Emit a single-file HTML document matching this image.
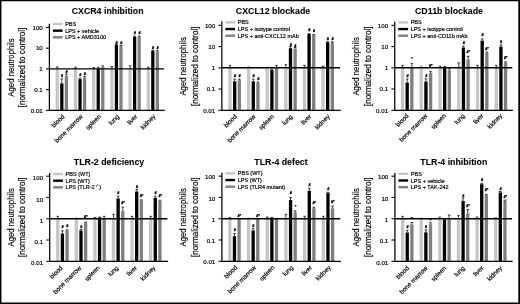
<!DOCTYPE html>
<html><head><meta charset="utf-8"><title>Aged neutrophils</title>
<style>
html,body{margin:0;padding:0;background:#fff;}
body{width:520px;height:304px;overflow:hidden;position:relative;font-family:"Liberation Sans",sans-serif;}
svg{position:absolute;left:0;top:0;display:block;font-family:"Liberation Sans",sans-serif;}
.frame{position:absolute;left:0;top:0;width:520px;height:304px;box-sizing:border-box;border-style:solid;border-color:#000;border-width:1.5px 1.5px 1.5px 1.5px;}
</style></head><body>
<svg width="520" height="304" viewBox="0 0 520 304" fill="#000" style="filter:blur(0.35px)">
<style>text{stroke:#000;stroke-width:0.18px;}text.t{stroke-width:0.08px;}text.m{stroke-width:0.25px;}</style>
<rect x="0" y="0" width="520" height="304" fill="#fff"/>
<g><text class="t" x="107.6" y="14" font-size="8.8" font-weight="bold" text-anchor="middle">CXCR4 inhibition</text>
<rect x="55.65" y="68.9" width="3.25" height="41.44" fill="#c6c6c6"/>
<path d="M57.27 68.9V66.89M55.98 66.89H58.57" stroke="#000" stroke-width="0.75" fill="none"/>
<rect x="60.2" y="83.38" width="3.25" height="26.96" fill="#000000"/>
<path d="M61.82 83.38V78.88M60.52 78.88H63.12" stroke="#000" stroke-width="0.75" fill="none"/>
<text class="m" x="62.02" y="77.28" font-size="3.6" text-anchor="middle" font-weight="bold" font-style="italic">#</text>
<rect x="64.75" y="76.09" width="3.25" height="34.25" fill="#7f7f7f"/>
<path d="M66.38 76.09V74.12M65.08 74.12H67.67" stroke="#000" stroke-width="0.75" fill="none"/>
<text class="m" x="66.58" y="72.52" font-size="3.6" text-anchor="middle" font-weight="bold" font-style="italic">#</text>
<rect x="73.85" y="68.9" width="3.25" height="41.44" fill="#c6c6c6"/>
<path d="M75.47 68.9V67.26M74.17 67.26H76.77" stroke="#000" stroke-width="0.75" fill="none"/>
<rect x="78.4" y="79.15" width="3.25" height="31.19" fill="#000000"/>
<path d="M80.02 79.15V78.09M78.72 78.09H81.32" stroke="#000" stroke-width="0.75" fill="none"/>
<text class="m" x="80.22" y="76.49" font-size="3.6" text-anchor="middle" font-weight="bold" font-style="italic">#</text>
<rect x="82.95" y="77.85" width="3.25" height="32.49" fill="#7f7f7f"/>
<path d="M84.57 77.85V76.71M83.27 76.71H85.87" stroke="#000" stroke-width="0.75" fill="none"/>
<text class="m" x="84.77" y="75.11" font-size="3.6" text-anchor="middle" font-weight="bold" font-style="italic">#</text>
<rect x="92.05" y="68.04" width="3.25" height="42.3" fill="#c6c6c6"/>
<path d="M93.68 68.04V67.64M92.38 67.64H94.98" stroke="#000" stroke-width="0.75" fill="none"/>
<rect x="96.6" y="68.9" width="3.25" height="41.44" fill="#000000"/>
<path d="M98.23 68.9V67.26M96.93 67.26H99.53" stroke="#000" stroke-width="0.75" fill="none"/>
<rect x="101.15" y="67.26" width="3.25" height="43.08" fill="#7f7f7f"/>
<path d="M102.78 67.26V65.87M101.48 65.87H104.08" stroke="#000" stroke-width="0.75" fill="none"/>
<rect x="110.25" y="68.9" width="3.25" height="41.44" fill="#c6c6c6"/>
<path d="M111.88 68.9V66.54M110.58 66.54H113.17" stroke="#000" stroke-width="0.75" fill="none"/>
<rect x="114.8" y="44.9" width="3.25" height="65.44" fill="#000000"/>
<path d="M116.42 44.9V44.24M115.12 44.24H117.72" stroke="#000" stroke-width="0.75" fill="none"/>
<text class="m" x="116.62" y="43.64" font-size="3.6" text-anchor="middle" font-weight="bold" font-style="italic">#</text>
<rect x="119.35" y="46.17" width="3.25" height="64.17" fill="#7f7f7f"/>
<path d="M120.97 46.17V45.48M119.67 45.48H122.27" stroke="#000" stroke-width="0.75" fill="none"/>
<text class="m" x="121.17" y="43.88" font-size="3.6" text-anchor="middle" font-weight="bold" font-style="italic">#</text>
<rect x="128.45" y="68.9" width="3.25" height="41.44" fill="#c6c6c6"/>
<path d="M130.08 68.9V65.87M128.78 65.87H131.38" stroke="#000" stroke-width="0.75" fill="none"/>
<rect x="133" y="36.65" width="3.25" height="73.69" fill="#000000"/>
<path d="M134.63 36.65V36.05M133.33 36.05H135.93" stroke="#000" stroke-width="0.75" fill="none"/>
<text class="m" x="134.83" y="34.45" font-size="3.6" text-anchor="middle" font-weight="bold" font-style="italic">#</text>
<rect x="137.55" y="36.91" width="3.25" height="73.43" fill="#7f7f7f"/>
<path d="M139.18 36.91V36.05M137.88 36.05H140.48" stroke="#000" stroke-width="0.75" fill="none"/>
<text class="m" x="139.38" y="34.45" font-size="3.6" text-anchor="middle" font-weight="bold" font-style="italic">#</text>
<rect x="146.65" y="68.9" width="3.25" height="41.44" fill="#c6c6c6"/>
<path d="M148.28 68.9V67.26M146.97 67.26H149.58" stroke="#000" stroke-width="0.75" fill="none"/>
<rect x="151.2" y="50.77" width="3.25" height="59.57" fill="#000000"/>
<path d="M152.83 50.77V50.19M151.53 50.19H154.13" stroke="#000" stroke-width="0.75" fill="none"/>
<text class="m" x="153.03" y="48.59" font-size="3.6" text-anchor="middle" font-weight="bold" font-style="italic">#</text>
<rect x="155.75" y="51.52" width="3.25" height="58.82" fill="#7f7f7f"/>
<path d="M157.38 51.52V50.65M156.07 50.65H158.68" stroke="#000" stroke-width="0.75" fill="none"/>
<text class="m" x="157.57" y="49.05" font-size="3.6" text-anchor="middle" font-weight="bold" font-style="italic">#</text>
<text x="42.8" y="29.71" font-size="6.2" text-anchor="end">100</text>
<text x="42.8" y="50.43" font-size="6.2" text-anchor="end">10</text>
<text x="42.8" y="71.15" font-size="6.2" text-anchor="end">1</text>
<text x="42.8" y="91.87" font-size="6.2" text-anchor="end">0.1</text>
<text x="42.8" y="112.59" font-size="6.2" text-anchor="end">0.01</text>
<rect x="52.9" y="22.8" width="9.7" height="2.4" fill="#c6c6c6"/>
<text x="65.2" y="26" font-size="5.5">PBS</text>
<rect x="52.9" y="29.45" width="9.7" height="2.4" fill="#000000"/>
<text x="65.2" y="32.65" font-size="5.5">LPS + vehicle</text>
<rect x="52.9" y="36.1" width="9.7" height="2.4" fill="#7f7f7f"/>
<text x="65.2" y="39.3" font-size="5.5">LPS + AMD3100</text>
<text transform="translate(13.9 67.5) rotate(-90) scale(0.82 1)" font-size="9.5" text-anchor="middle">Aged neutrophils</text>
<text transform="translate(25.2 67.4) rotate(-90) scale(0.82 1)" font-size="9.35" text-anchor="middle" textLength="96.95" lengthAdjust="spacingAndGlyphs">[normalized to control]</text>
<text transform="translate(65.02 117.14) rotate(-45)" font-size="6.3" text-anchor="end">blood</text>
<text transform="translate(83.22 117.14) rotate(-45)" font-size="6.3" text-anchor="end">bone marrow</text>
<text transform="translate(101.43 117.14) rotate(-45)" font-size="6.3" text-anchor="end">spleen</text>
<text transform="translate(119.62 117.14) rotate(-45)" font-size="6.3" text-anchor="end">lung</text>
<text transform="translate(137.83 117.14) rotate(-45)" font-size="6.3" text-anchor="end">liver</text>
<text transform="translate(156.03 117.14) rotate(-45)" font-size="6.3" text-anchor="end">kidney</text></g>
<g><text class="t" x="273" y="14" font-size="8.8" font-weight="bold" text-anchor="middle">CXCL12 blockade</text>
<rect x="228.38" y="67.8" width="3.32" height="42.46" fill="#c6c6c6"/>
<path d="M230.04 67.8V65.38M228.74 65.38H231.34" stroke="#000" stroke-width="0.75" fill="none"/>
<rect x="233.03" y="81.35" width="3.32" height="28.91" fill="#000000"/>
<path d="M234.69 81.35V79.21M233.39 79.21H235.99" stroke="#000" stroke-width="0.75" fill="none"/>
<text class="m" x="234.89" y="76.61" font-size="3.6" text-anchor="middle" font-weight="bold" font-style="italic">#</text>
<rect x="237.68" y="80.22" width="3.32" height="30.04" fill="#7f7f7f"/>
<path d="M239.34 80.22V79.21M238.04 79.21H240.64" stroke="#000" stroke-width="0.75" fill="none"/>
<text class="m" x="239.54" y="76.61" font-size="3.6" text-anchor="middle" font-weight="bold" font-style="italic">#</text>
<rect x="246.98" y="67.8" width="3.32" height="42.46" fill="#c6c6c6"/>
<path d="M248.64 67.8V67.09M247.34 67.09H249.94" stroke="#000" stroke-width="0.75" fill="none"/>
<rect x="251.63" y="81.35" width="3.32" height="28.91" fill="#000000"/>
<path d="M253.29 81.35V79.21M251.99 79.21H254.59" stroke="#000" stroke-width="0.75" fill="none"/>
<text class="m" x="253.49" y="76.61" font-size="3.6" text-anchor="middle" font-weight="bold" font-style="italic">#</text>
<rect x="256.27" y="83.11" width="3.32" height="27.15" fill="#7f7f7f"/>
<path d="M257.93 83.11V81.97M256.63 81.97H259.23" stroke="#000" stroke-width="0.75" fill="none"/>
<text class="m" x="258.13" y="80.37" font-size="3.6" text-anchor="middle" font-weight="bold" font-style="italic">#</text>
<rect x="265.57" y="67.8" width="3.32" height="42.46" fill="#c6c6c6"/>
<path d="M267.23 67.8V67.35M265.93 67.35H268.53" stroke="#000" stroke-width="0.75" fill="none"/>
<rect x="270.22" y="69.86" width="3.32" height="40.4" fill="#000000"/>
<path d="M271.88 69.86V68.98M270.58 68.98H273.18" stroke="#000" stroke-width="0.75" fill="none"/>
<rect x="274.87" y="67.8" width="3.32" height="42.46" fill="#7f7f7f"/>
<path d="M276.53 67.8V65.38M275.23 65.38H277.83" stroke="#000" stroke-width="0.75" fill="none"/>
<rect x="284.17" y="67.8" width="3.32" height="42.46" fill="#c6c6c6"/>
<path d="M285.83 67.8V64.7M284.53 64.7H287.13" stroke="#000" stroke-width="0.75" fill="none"/>
<rect x="288.82" y="48.18" width="3.32" height="62.08" fill="#000000"/>
<path d="M290.48 48.18V46.57M289.18 46.57H291.78" stroke="#000" stroke-width="0.75" fill="none"/>
<text class="m" x="290.68" y="45.97" font-size="3.6" text-anchor="middle" font-weight="bold" font-style="italic">#</text>
<rect x="293.47" y="48.74" width="3.32" height="61.52" fill="#7f7f7f"/>
<path d="M295.13 48.74V47.54M293.83 47.54H296.43" stroke="#000" stroke-width="0.75" fill="none"/>
<text class="m" x="295.33" y="46.74" font-size="3.6" text-anchor="middle" font-weight="bold" font-style="italic">#</text>
<rect x="302.77" y="66.92" width="3.32" height="43.34" fill="#c6c6c6"/>
<path d="M304.43 66.92V65.38M303.13 65.38H305.73" stroke="#000" stroke-width="0.75" fill="none"/>
<rect x="307.42" y="34.14" width="3.32" height="76.12" fill="#000000"/>
<path d="M309.08 34.14V33.56M307.78 33.56H310.38" stroke="#000" stroke-width="0.75" fill="none"/>
<text class="m" x="309.28" y="31.16" font-size="3.6" text-anchor="middle" font-weight="bold" font-style="italic">#</text>
<rect x="312.06" y="35.02" width="3.32" height="75.24" fill="#7f7f7f"/>
<path d="M313.72 35.02V34.51M312.42 34.51H315.02" stroke="#000" stroke-width="0.75" fill="none"/>
<text class="m" x="313.92" y="32.11" font-size="3.6" text-anchor="middle" font-weight="bold" font-style="italic">#</text>
<rect x="321.36" y="66.92" width="3.32" height="43.34" fill="#c6c6c6"/>
<path d="M323.02 66.92V66.12M321.72 66.12H324.32" stroke="#000" stroke-width="0.75" fill="none"/>
<rect x="326.01" y="42.24" width="3.32" height="68.02" fill="#000000"/>
<path d="M327.67 42.24V41.68M326.37 41.68H328.97" stroke="#000" stroke-width="0.75" fill="none"/>
<text class="m" x="327.87" y="40.08" font-size="3.6" text-anchor="middle" font-weight="bold" font-style="italic">#</text>
<rect x="330.66" y="42.41" width="3.32" height="67.85" fill="#7f7f7f"/>
<path d="M332.32 42.41V41.84M331.02 41.84H333.62" stroke="#000" stroke-width="0.75" fill="none"/>
<text class="m" x="332.52" y="40.24" font-size="3.6" text-anchor="middle" font-weight="bold" font-style="italic">#</text>
<text x="215.25" y="27.59" font-size="6.2" text-anchor="end">100</text>
<text x="215.25" y="48.82" font-size="6.2" text-anchor="end">10</text>
<text x="215.25" y="70.05" font-size="6.2" text-anchor="end">1</text>
<text x="215.25" y="91.28" font-size="6.2" text-anchor="end">0.1</text>
<text x="215.25" y="112.51" font-size="6.2" text-anchor="end">0.01</text>
<rect x="225.35" y="21.2" width="9.7" height="2.4" fill="#c6c6c6"/>
<text x="237.75" y="24.4" font-size="5.5">PBS</text>
<rect x="225.35" y="27.85" width="9.7" height="2.4" fill="#000000"/>
<text x="237.75" y="31.05" font-size="5.5">LPS + isotype control</text>
<rect x="225.35" y="34.5" width="9.7" height="2.4" fill="#7f7f7f"/>
<text x="237.75" y="37.7" font-size="5.5">LPS + anti-CXCL12 mAb</text>
<text transform="translate(186.35 66.4) rotate(-90) scale(0.82 1)" font-size="9.5" text-anchor="middle">Aged neutrophils</text>
<text transform="translate(197.65 66.3) rotate(-90) scale(0.82 1)" font-size="9.35" text-anchor="middle" textLength="96.95" lengthAdjust="spacingAndGlyphs">[normalized to control]</text>
<text transform="translate(237.29 117.06) rotate(-45)" font-size="6.3" text-anchor="end">blood</text>
<text transform="translate(255.89 117.06) rotate(-45)" font-size="6.3" text-anchor="end">bone marrow</text>
<text transform="translate(274.48 117.06) rotate(-45)" font-size="6.3" text-anchor="end">spleen</text>
<text transform="translate(293.08 117.06) rotate(-45)" font-size="6.3" text-anchor="end">lung</text>
<text transform="translate(311.68 117.06) rotate(-45)" font-size="6.3" text-anchor="end">liver</text>
<text transform="translate(330.27 117.06) rotate(-45)" font-size="6.3" text-anchor="end">kidney</text></g>
<g><text class="t" x="449" y="14" font-size="8.8" font-weight="bold" text-anchor="middle">CD11b blockade</text>
<rect x="400.88" y="67.8" width="3.32" height="42.46" fill="#c6c6c6"/>
<path d="M402.54 67.8V65.38M401.24 65.38H403.84" stroke="#000" stroke-width="0.75" fill="none"/>
<rect x="405.53" y="82.64" width="3.32" height="27.62" fill="#000000"/>
<path d="M407.19 82.64V78.9M405.89 78.9H408.49" stroke="#000" stroke-width="0.75" fill="none"/>
<text class="m" x="407.39" y="77.3" font-size="3.6" text-anchor="middle" font-weight="bold" font-style="italic">#</text>
<rect x="410.18" y="67.8" width="3.32" height="42.46" fill="#7f7f7f"/>
<path d="M411.84 67.8V63.35M410.54 63.35H413.14" stroke="#000" stroke-width="0.75" fill="none"/>
<text class="m" x="412.04" y="59.95" font-size="3.6" text-anchor="middle" font-weight="bold" font-style="italic">*</text>
<rect x="419.63" y="67.8" width="3.32" height="42.46" fill="#c6c6c6"/>
<path d="M421.29 67.8V66.92M419.99 66.92H422.59" stroke="#000" stroke-width="0.75" fill="none"/>
<rect x="424.28" y="81.55" width="3.32" height="28.71" fill="#000000"/>
<path d="M425.94 81.55V78.9M424.64 78.9H427.24" stroke="#000" stroke-width="0.75" fill="none"/>
<text class="m" x="426.14" y="77.3" font-size="3.6" text-anchor="middle" font-weight="bold" font-style="italic">#</text>
<rect x="428.92" y="73.06" width="3.32" height="37.2" fill="#7f7f7f"/>
<path d="M430.58 73.06V71.63M429.28 71.63H431.88" stroke="#000" stroke-width="0.75" fill="none"/>
<text class="m" x="430.78" y="66.73" font-size="3.6" text-anchor="middle" font-weight="bold" font-style="italic">#*</text>
<rect x="438.37" y="66.92" width="3.32" height="43.34" fill="#c6c6c6"/>
<path d="M440.03 66.92V66.12M438.73 66.12H441.33" stroke="#000" stroke-width="0.75" fill="none"/>
<rect x="443.02" y="67.35" width="3.32" height="42.91" fill="#000000"/>
<path d="M444.68 67.35V66.51M443.38 66.51H445.98" stroke="#000" stroke-width="0.75" fill="none"/>
<rect x="447.67" y="70.33" width="3.32" height="39.93" fill="#7f7f7f"/>
<path d="M449.33 70.33V68.77M448.03 68.77H450.63" stroke="#000" stroke-width="0.75" fill="none"/>
<rect x="457.12" y="67.8" width="3.32" height="42.46" fill="#c6c6c6"/>
<path d="M458.78 67.8V62.91M457.48 62.91H460.08" stroke="#000" stroke-width="0.75" fill="none"/>
<rect x="461.77" y="47.54" width="3.32" height="62.72" fill="#000000"/>
<path d="M463.43 47.54V46.12M462.13 46.12H464.73" stroke="#000" stroke-width="0.75" fill="none"/>
<text class="m" x="463.63" y="43.52" font-size="3.6" text-anchor="middle" font-weight="bold" font-style="italic">#</text>
<rect x="466.42" y="59.35" width="3.32" height="50.91" fill="#7f7f7f"/>
<path d="M468.08 59.35V56.38M466.78 56.38H469.38" stroke="#000" stroke-width="0.75" fill="none"/>
<text class="m" x="468.28" y="53.08" font-size="3.6" text-anchor="middle" font-weight="bold" font-style="italic">#*</text>
<rect x="475.87" y="68.77" width="3.32" height="41.49" fill="#c6c6c6"/>
<path d="M477.53 68.77V65.38M476.23 65.38H478.83" stroke="#000" stroke-width="0.75" fill="none"/>
<rect x="480.52" y="40.65" width="3.32" height="69.61" fill="#000000"/>
<path d="M482.18 40.65V38.89M480.88 38.89H483.48" stroke="#000" stroke-width="0.75" fill="none"/>
<text class="m" x="482.38" y="36.49" font-size="3.6" text-anchor="middle" font-weight="bold" font-style="italic">#</text>
<rect x="485.16" y="52.96" width="3.32" height="57.3" fill="#7f7f7f"/>
<path d="M486.82 52.96V52.08M485.52 52.08H488.12" stroke="#000" stroke-width="0.75" fill="none"/>
<text class="m" x="487.02" y="49.98" font-size="3.6" text-anchor="middle" font-weight="bold" font-style="italic">#*</text>
<rect x="494.61" y="68.77" width="3.32" height="41.49" fill="#c6c6c6"/>
<path d="M496.27 68.77V65.38M494.97 65.38H497.57" stroke="#000" stroke-width="0.75" fill="none"/>
<rect x="499.26" y="46.57" width="3.32" height="63.69" fill="#000000"/>
<path d="M500.92 46.57V44.89M499.62 44.89H502.22" stroke="#000" stroke-width="0.75" fill="none"/>
<text class="m" x="501.12" y="42.79" font-size="3.6" text-anchor="middle" font-weight="bold" font-style="italic">#</text>
<rect x="503.91" y="62.91" width="3.32" height="47.35" fill="#7f7f7f"/>
<path d="M505.57 62.91V61.88M504.27 61.88H506.87" stroke="#000" stroke-width="0.75" fill="none"/>
<text class="m" x="505.77" y="59.28" font-size="3.6" text-anchor="middle" font-weight="bold" font-style="italic">#*</text>
<text x="388.15" y="27.59" font-size="6.2" text-anchor="end">100</text>
<text x="388.15" y="48.82" font-size="6.2" text-anchor="end">10</text>
<text x="388.15" y="70.05" font-size="6.2" text-anchor="end">1</text>
<text x="388.15" y="91.28" font-size="6.2" text-anchor="end">0.1</text>
<text x="388.15" y="112.51" font-size="6.2" text-anchor="end">0.01</text>
<rect x="398.25" y="21.2" width="9.7" height="2.4" fill="#c6c6c6"/>
<text x="410.65" y="24.4" font-size="5.5">PBS</text>
<rect x="398.25" y="27.85" width="9.7" height="2.4" fill="#000000"/>
<text x="410.65" y="31.05" font-size="5.5">LPS + isotype control</text>
<rect x="398.25" y="34.5" width="9.7" height="2.4" fill="#7f7f7f"/>
<text x="410.65" y="37.7" font-size="5.5">LPS + anti-CD11b mAb</text>
<text transform="translate(359.25 66.4) rotate(-90) scale(0.82 1)" font-size="9.5" text-anchor="middle">Aged neutrophils</text>
<text transform="translate(370.55 66.3) rotate(-90) scale(0.82 1)" font-size="9.35" text-anchor="middle" textLength="96.95" lengthAdjust="spacingAndGlyphs">[normalized to control]</text>
<text transform="translate(409.09 116.26) rotate(-45)" font-size="6.3" text-anchor="end">blood</text>
<text transform="translate(427.84 116.26) rotate(-45)" font-size="6.3" text-anchor="end">bone marrow</text>
<text transform="translate(446.58 116.26) rotate(-45)" font-size="6.3" text-anchor="end">spleen</text>
<text transform="translate(465.33 116.26) rotate(-45)" font-size="6.3" text-anchor="end">lung</text>
<text transform="translate(484.08 116.26) rotate(-45)" font-size="6.3" text-anchor="end">liver</text>
<text transform="translate(502.82 116.26) rotate(-45)" font-size="6.3" text-anchor="end">kidney</text></g>
<g><text class="t" x="109" y="165" font-size="8.8" font-weight="bold" text-anchor="middle">TLR-2 deficiency</text>
<rect x="56.12" y="218.75" width="3.31" height="42.56" fill="#c6c6c6"/>
<path d="M57.77 218.75V216.33M56.47 216.33H59.07" stroke="#000" stroke-width="0.75" fill="none"/>
<rect x="60.75" y="233.62" width="3.31" height="27.69" fill="#000000"/>
<path d="M62.41 233.62V230.85M61.11 230.85H63.71" stroke="#000" stroke-width="0.75" fill="none"/>
<text class="m" x="62.61" y="227.55" font-size="3.6" text-anchor="middle" font-weight="bold" font-style="italic">#</text>
<rect x="65.39" y="230.85" width="3.31" height="30.46" fill="#7f7f7f"/>
<path d="M67.05 230.85V229.88M65.75 229.88H68.35" stroke="#000" stroke-width="0.75" fill="none"/>
<text class="m" x="67.25" y="226.78" font-size="3.6" text-anchor="middle" font-weight="bold" font-style="italic">#</text>
<rect x="74.69" y="218.75" width="3.31" height="42.56" fill="#c6c6c6"/>
<path d="M76.35 218.75V218.3M75.05 218.3H77.65" stroke="#000" stroke-width="0.75" fill="none"/>
<rect x="79.33" y="230.51" width="3.31" height="30.8" fill="#000000"/>
<path d="M80.98 230.51V229.57M79.68 229.57H82.28" stroke="#000" stroke-width="0.75" fill="none"/>
<text class="m" x="81.18" y="227.77" font-size="3.6" text-anchor="middle" font-weight="bold" font-style="italic">#</text>
<rect x="83.96" y="222.73" width="3.31" height="38.58" fill="#7f7f7f"/>
<path d="M85.62 222.73V222.05M84.32 222.05H86.92" stroke="#000" stroke-width="0.75" fill="none"/>
<text class="m" x="85.82" y="218.45" font-size="3.6" text-anchor="middle" font-weight="bold" font-style="italic">#*</text>
<rect x="93.26" y="217.87" width="3.31" height="43.44" fill="#c6c6c6"/>
<path d="M94.92 217.87V217.46M93.62 217.46H96.22" stroke="#000" stroke-width="0.75" fill="none"/>
<rect x="97.9" y="217.46" width="3.31" height="43.85" fill="#000000"/>
<path d="M99.56 217.46V217.07M98.26 217.07H100.86" stroke="#000" stroke-width="0.75" fill="none"/>
<rect x="102.54" y="217.87" width="3.31" height="43.44" fill="#7f7f7f"/>
<path d="M104.19 217.87V216.33M102.89 216.33H105.49" stroke="#000" stroke-width="0.75" fill="none"/>
<rect x="111.83" y="218.75" width="3.31" height="42.56" fill="#c6c6c6"/>
<path d="M113.49 218.75V214.41M112.19 214.41H114.79" stroke="#000" stroke-width="0.75" fill="none"/>
<rect x="116.47" y="198.44" width="3.31" height="62.87" fill="#000000"/>
<path d="M118.13 198.44V196.18M116.83 196.18H119.43" stroke="#000" stroke-width="0.75" fill="none"/>
<text class="m" x="118.33" y="194.38" font-size="3.6" text-anchor="middle" font-weight="bold" font-style="italic">#</text>
<rect x="121.11" y="211.05" width="3.31" height="50.26" fill="#7f7f7f"/>
<path d="M122.77 211.05V207.17M121.47 207.17H124.07" stroke="#000" stroke-width="0.75" fill="none"/>
<text class="m" x="122.97" y="204.07" font-size="3.6" text-anchor="middle" font-weight="bold" font-style="italic">#*</text>
<rect x="130.41" y="218.75" width="3.31" height="42.56" fill="#c6c6c6"/>
<path d="M132.06 218.75V216.33M130.76 216.33H133.36" stroke="#000" stroke-width="0.75" fill="none"/>
<rect x="135.04" y="191.54" width="3.31" height="69.77" fill="#000000"/>
<path d="M136.7 191.54V189.57M135.4 189.57H138" stroke="#000" stroke-width="0.75" fill="none"/>
<text class="m" x="136.9" y="187.77" font-size="3.6" text-anchor="middle" font-weight="bold" font-style="italic">#</text>
<rect x="139.68" y="200.51" width="3.31" height="60.8" fill="#7f7f7f"/>
<path d="M141.34 200.51V199.89M140.04 199.89H142.64" stroke="#000" stroke-width="0.75" fill="none"/>
<text class="m" x="141.54" y="197.49" font-size="3.6" text-anchor="middle" font-weight="bold" font-style="italic">#*</text>
<rect x="148.98" y="218.75" width="3.31" height="42.56" fill="#c6c6c6"/>
<path d="M150.63 218.75V216.33M149.33 216.33H151.93" stroke="#000" stroke-width="0.75" fill="none"/>
<rect x="153.62" y="197.85" width="3.31" height="63.46" fill="#000000"/>
<path d="M155.27 197.85V196.18M153.97 196.18H156.57" stroke="#000" stroke-width="0.75" fill="none"/>
<text class="m" x="155.47" y="194.38" font-size="3.6" text-anchor="middle" font-weight="bold" font-style="italic">#</text>
<rect x="158.25" y="201.31" width="3.31" height="60" fill="#7f7f7f"/>
<path d="M159.91 201.31V200.25M158.61 200.25H161.21" stroke="#000" stroke-width="0.75" fill="none"/>
<text class="m" x="160.11" y="197.35" font-size="3.6" text-anchor="middle" font-weight="bold" font-style="italic">#*</text>
<text x="43.1" y="180.34" font-size="6.2" text-anchor="end">100</text>
<text x="43.1" y="201.62" font-size="6.2" text-anchor="end">10</text>
<text x="43.1" y="222.9" font-size="6.2" text-anchor="end">1</text>
<text x="43.1" y="244.18" font-size="6.2" text-anchor="end">0.1</text>
<text x="43.1" y="265.46" font-size="6.2" text-anchor="end">0.01</text>
<rect x="53.2" y="172.85" width="9.7" height="2.4" fill="#c6c6c6"/>
<text x="65.6" y="176.05" font-size="5.5">PBS (WT)</text>
<rect x="53.2" y="179.5" width="9.7" height="2.4" fill="#000000"/>
<text x="65.6" y="182.7" font-size="5.5">LPS (WT)</text>
<rect x="53.2" y="186.15" width="9.7" height="2.4" fill="#7f7f7f"/>
<text x="65.6" y="189.35" font-size="5.5">LPS (TLR-2<tspan font-size="3.2" dy="-2.2">−/−</tspan><tspan dy="2.2">)</tspan></text>
<text transform="translate(13.85 217.35) rotate(-90) scale(0.82 1)" font-size="9.5" text-anchor="middle">Aged neutrophils</text>
<text transform="translate(25.15 217.25) rotate(-90) scale(0.82 1)" font-size="9.35" text-anchor="middle" textLength="96.95" lengthAdjust="spacingAndGlyphs">[normalized to control]</text>
<text transform="translate(63.11 268.41) rotate(-45)" font-size="6.3" text-anchor="end">blood</text>
<text transform="translate(81.68 268.41) rotate(-45)" font-size="6.3" text-anchor="end">bone marrow</text>
<text transform="translate(100.26 268.41) rotate(-45)" font-size="6.3" text-anchor="end">spleen</text>
<text transform="translate(118.83 268.41) rotate(-45)" font-size="6.3" text-anchor="end">lung</text>
<text transform="translate(137.4 268.41) rotate(-45)" font-size="6.3" text-anchor="end">liver</text>
<text transform="translate(155.97 268.41) rotate(-45)" font-size="6.3" text-anchor="end">kidney</text></g>
<g><text class="t" x="281" y="164.7" font-size="8.8" font-weight="bold" text-anchor="middle">TLR-4 defect</text>
<rect x="228.19" y="218.7" width="3.3" height="42.56" fill="#c6c6c6"/>
<path d="M229.84 218.7V217.41M228.54 217.41H231.14" stroke="#000" stroke-width="0.75" fill="none"/>
<rect x="232.8" y="236.23" width="3.3" height="25.03" fill="#000000"/>
<path d="M234.45 236.23V233.57M233.15 233.57H235.75" stroke="#000" stroke-width="0.75" fill="none"/>
<text class="m" x="234.65" y="230.97" font-size="3.6" text-anchor="middle" font-weight="bold" font-style="italic">#</text>
<rect x="237.42" y="219.17" width="3.3" height="42.09" fill="#7f7f7f"/>
<path d="M239.07 219.17V218.7M237.77 218.7H240.37" stroke="#000" stroke-width="0.75" fill="none"/>
<text class="m" x="239.27" y="217.3" font-size="3.6" text-anchor="middle" font-weight="bold" font-style="italic">#*</text>
<rect x="246.89" y="218.7" width="3.3" height="42.56" fill="#c6c6c6"/>
<path d="M248.54 218.7V218.25M247.24 218.25H249.84" stroke="#000" stroke-width="0.75" fill="none"/>
<rect x="251.51" y="230.46" width="3.3" height="30.8" fill="#000000"/>
<path d="M253.16 230.46V228.67M251.86 228.67H254.46" stroke="#000" stroke-width="0.75" fill="none"/>
<text class="m" x="253.36" y="226.87" font-size="3.6" text-anchor="middle" font-weight="bold" font-style="italic">#</text>
<rect x="256.12" y="219.17" width="3.3" height="42.09" fill="#7f7f7f"/>
<path d="M257.77 219.17V218.7M256.47 218.7H259.07" stroke="#000" stroke-width="0.75" fill="none"/>
<text class="m" x="257.97" y="217.3" font-size="3.6" text-anchor="middle" font-weight="bold" font-style="italic">#*</text>
<rect x="265.6" y="218.25" width="3.3" height="43.01" fill="#c6c6c6"/>
<path d="M267.24 218.25V217.02M265.94 217.02H268.54" stroke="#000" stroke-width="0.75" fill="none"/>
<rect x="270.21" y="217.82" width="3.3" height="43.44" fill="#000000"/>
<path d="M271.86 217.82V217.41M270.56 217.41H273.16" stroke="#000" stroke-width="0.75" fill="none"/>
<rect x="274.83" y="219.17" width="3.3" height="42.09" fill="#7f7f7f"/>
<path d="M276.48 219.17V218.7M275.18 218.7H277.78" stroke="#000" stroke-width="0.75" fill="none"/>
<rect x="284.3" y="218.7" width="3.3" height="42.56" fill="#c6c6c6"/>
<path d="M285.95 218.7V214.36M284.65 214.36H287.25" stroke="#000" stroke-width="0.75" fill="none"/>
<rect x="288.92" y="200.08" width="3.3" height="61.18" fill="#000000"/>
<path d="M290.56 200.08V197.42M289.26 197.42H291.86" stroke="#000" stroke-width="0.75" fill="none"/>
<text class="m" x="290.76" y="194.42" font-size="3.6" text-anchor="middle" font-weight="bold" font-style="italic">#</text>
<rect x="293.53" y="212.29" width="3.3" height="48.97" fill="#7f7f7f"/>
<path d="M295.18 212.29V210.84M293.88 210.84H296.48" stroke="#000" stroke-width="0.75" fill="none"/>
<text class="m" x="295.38" y="208.14" font-size="3.6" text-anchor="middle" font-weight="bold" font-style="italic">*</text>
<rect x="303" y="219.17" width="3.3" height="42.09" fill="#c6c6c6"/>
<path d="M304.65 219.17V216.28M303.35 216.28H305.95" stroke="#000" stroke-width="0.75" fill="none"/>
<rect x="307.62" y="190.79" width="3.3" height="70.47" fill="#000000"/>
<path d="M309.27 190.79V188.24M307.97 188.24H310.57" stroke="#000" stroke-width="0.75" fill="none"/>
<text class="m" x="309.47" y="185.64" font-size="3.6" text-anchor="middle" font-weight="bold" font-style="italic">#</text>
<rect x="312.24" y="208.24" width="3.3" height="53.02" fill="#7f7f7f"/>
<path d="M313.88 208.24V207.26M312.58 207.26H315.18" stroke="#000" stroke-width="0.75" fill="none"/>
<text class="m" x="314.08" y="203.86" font-size="3.6" text-anchor="middle" font-weight="bold" font-style="italic">#*</text>
<rect x="321.71" y="219.17" width="3.3" height="42.09" fill="#c6c6c6"/>
<path d="M323.36 219.17V216.28M322.06 216.28H324.66" stroke="#000" stroke-width="0.75" fill="none"/>
<rect x="326.32" y="193.08" width="3.3" height="68.18" fill="#000000"/>
<path d="M327.97 193.08V192.25M326.67 192.25H329.27" stroke="#000" stroke-width="0.75" fill="none"/>
<text class="m" x="328.17" y="189.65" font-size="3.6" text-anchor="middle" font-weight="bold" font-style="italic">#</text>
<rect x="330.94" y="208.39" width="3.3" height="52.87" fill="#7f7f7f"/>
<path d="M332.59 208.39V206.12M331.29 206.12H333.89" stroke="#000" stroke-width="0.75" fill="none"/>
<text class="m" x="332.79" y="203.12" font-size="3.6" text-anchor="middle" font-weight="bold" font-style="italic">#*</text>
<text x="215.3" y="179.29" font-size="6.2" text-anchor="end">100</text>
<text x="215.3" y="200.57" font-size="6.2" text-anchor="end">10</text>
<text x="215.3" y="221.85" font-size="6.2" text-anchor="end">1</text>
<text x="215.3" y="243.13" font-size="6.2" text-anchor="end">0.1</text>
<text x="215.3" y="264.41" font-size="6.2" text-anchor="end">0.01</text>
<rect x="225.4" y="172.2" width="9.7" height="2.4" fill="#c6c6c6"/>
<text x="237.8" y="175.4" font-size="5.5">PBS (WT)</text>
<rect x="225.4" y="178.85" width="9.7" height="2.4" fill="#000000"/>
<text x="237.8" y="182.05" font-size="5.5">LPS (WT)</text>
<rect x="225.4" y="185.5" width="9.7" height="2.4" fill="#7f7f7f"/>
<text x="237.8" y="188.7" font-size="5.5">LPS (TLR4 mutant)</text>
<text transform="translate(186.4 217.3) rotate(-90) scale(0.82 1)" font-size="9.5" text-anchor="middle">Aged neutrophils</text>
<text transform="translate(197.7 217.2) rotate(-90) scale(0.82 1)" font-size="9.35" text-anchor="middle" textLength="96.95" lengthAdjust="spacingAndGlyphs">[normalized to control]</text>
<text transform="translate(237.65 268.06) rotate(-45)" font-size="6.3" text-anchor="end">blood</text>
<text transform="translate(256.36 268.06) rotate(-45)" font-size="6.3" text-anchor="end">bone marrow</text>
<text transform="translate(275.06 268.06) rotate(-45)" font-size="6.3" text-anchor="end">spleen</text>
<text transform="translate(293.76 268.06) rotate(-45)" font-size="6.3" text-anchor="end">lung</text>
<text transform="translate(312.47 268.06) rotate(-45)" font-size="6.3" text-anchor="end">liver</text>
<text transform="translate(331.17 268.06) rotate(-45)" font-size="6.3" text-anchor="end">kidney</text></g>
<g><text class="t" x="453.8" y="165" font-size="8.8" font-weight="bold" text-anchor="middle">TLR-4 inhibition</text>
<rect x="400.99" y="218.75" width="3.3" height="42.56" fill="#c6c6c6"/>
<path d="M402.64 218.75V216.33M401.34 216.33H403.94" stroke="#000" stroke-width="0.75" fill="none"/>
<rect x="405.6" y="232.54" width="3.3" height="28.77" fill="#000000"/>
<path d="M407.25 232.54V230.19M405.95 230.19H408.55" stroke="#000" stroke-width="0.75" fill="none"/>
<text class="m" x="407.45" y="227.69" font-size="3.6" text-anchor="middle" font-weight="bold" font-style="italic">#</text>
<rect x="410.22" y="224.44" width="3.3" height="36.87" fill="#7f7f7f"/>
<path d="M411.87 224.44V222.59M410.57 222.59H413.17" stroke="#000" stroke-width="0.75" fill="none"/>
<path d="M410.57 217.65H413.17" stroke="#000" stroke-width="0.9"/>
<rect x="419.6" y="218.75" width="3.3" height="42.56" fill="#c6c6c6"/>
<path d="M421.25 218.75V218.3M419.95 218.3H422.55" stroke="#000" stroke-width="0.75" fill="none"/>
<rect x="424.22" y="232.33" width="3.3" height="28.98" fill="#000000"/>
<path d="M425.87 232.33V229.88M424.57 229.88H427.17" stroke="#000" stroke-width="0.75" fill="none"/>
<text class="m" x="426.07" y="227.68" font-size="3.6" text-anchor="middle" font-weight="bold" font-style="italic">#</text>
<rect x="428.83" y="224.28" width="3.3" height="37.03" fill="#7f7f7f"/>
<path d="M430.48 224.28V222.73M429.18 222.73H431.78" stroke="#000" stroke-width="0.75" fill="none"/>
<path d="M429.18 219.75H431.78" stroke="#000" stroke-width="0.9"/>
<rect x="438.22" y="218.75" width="3.3" height="42.56" fill="#c6c6c6"/>
<path d="M439.86 218.75V217.07M438.56 217.07H441.16" stroke="#000" stroke-width="0.75" fill="none"/>
<rect x="442.83" y="220.04" width="3.3" height="41.27" fill="#000000"/>
<path d="M444.48 220.04V219.52M443.18 219.52H445.78" stroke="#000" stroke-width="0.75" fill="none"/>
<rect x="447.45" y="218.75" width="3.3" height="42.56" fill="#7f7f7f"/>
<path d="M449.1 218.75V215M447.8 215H450.4" stroke="#000" stroke-width="0.75" fill="none"/>
<rect x="456.83" y="218.75" width="3.3" height="42.56" fill="#c6c6c6"/>
<path d="M458.48 218.75V215.64M457.18 215.64H459.78" stroke="#000" stroke-width="0.75" fill="none"/>
<rect x="461.45" y="200.9" width="3.3" height="60.41" fill="#000000"/>
<path d="M463.09 200.9V198.14M461.79 198.14H464.39" stroke="#000" stroke-width="0.75" fill="none"/>
<text class="m" x="463.29" y="197.04" font-size="3.6" text-anchor="middle" font-weight="bold" font-style="italic">#</text>
<rect x="466.06" y="213.32" width="3.3" height="47.99" fill="#7f7f7f"/>
<path d="M467.71 213.32V209.57M466.41 209.57H469.01" stroke="#000" stroke-width="0.75" fill="none"/>
<text class="m" x="467.91" y="206.97" font-size="3.6" text-anchor="middle" font-weight="bold" font-style="italic">#*</text>
<rect x="475.44" y="218.75" width="3.3" height="42.56" fill="#c6c6c6"/>
<path d="M477.09 218.75V217.07M475.79 217.07H478.39" stroke="#000" stroke-width="0.75" fill="none"/>
<rect x="480.06" y="184.21" width="3.3" height="77.1" fill="#000000"/>
<path d="M481.71 184.21V183.37M480.41 183.37H483.01" stroke="#000" stroke-width="0.75" fill="none"/>
<text class="m" x="481.91" y="180.67" font-size="3.6" text-anchor="middle" font-weight="bold" font-style="italic">#</text>
<rect x="484.68" y="195.05" width="3.3" height="66.26" fill="#7f7f7f"/>
<path d="M486.32 195.05V194.36M485.02 194.36H487.62" stroke="#000" stroke-width="0.75" fill="none"/>
<text class="m" x="486.52" y="191.16" font-size="3.6" text-anchor="middle" font-weight="bold" font-style="italic">#*</text>
<rect x="494.06" y="218.75" width="3.3" height="42.56" fill="#c6c6c6"/>
<path d="M495.71 218.75V217.87M494.41 217.87H497.01" stroke="#000" stroke-width="0.75" fill="none"/>
<rect x="498.67" y="192.46" width="3.3" height="68.85" fill="#000000"/>
<path d="M500.32 192.46V191.54M499.02 191.54H501.62" stroke="#000" stroke-width="0.75" fill="none"/>
<text class="m" x="500.52" y="189.74" font-size="3.6" text-anchor="middle" font-weight="bold" font-style="italic">#</text>
<rect x="503.29" y="200.77" width="3.3" height="60.54" fill="#7f7f7f"/>
<path d="M504.94 200.77V200.13M503.64 200.13H506.24" stroke="#000" stroke-width="0.75" fill="none"/>
<text class="m" x="505.14" y="197.73" font-size="3.6" text-anchor="middle" font-weight="bold" font-style="italic">#*</text>
<text x="388.3" y="179.44" font-size="6.2" text-anchor="end">100</text>
<text x="388.3" y="200.72" font-size="6.2" text-anchor="end">10</text>
<text x="388.3" y="222" font-size="6.2" text-anchor="end">1</text>
<text x="388.3" y="243.28" font-size="6.2" text-anchor="end">0.1</text>
<text x="388.3" y="264.56" font-size="6.2" text-anchor="end">0.01</text>
<rect x="398.4" y="172.65" width="9.7" height="2.4" fill="#c6c6c6"/>
<text x="410.8" y="175.85" font-size="5.5">PBS</text>
<rect x="398.4" y="179.3" width="9.7" height="2.4" fill="#000000"/>
<text x="410.8" y="182.5" font-size="5.5">LPS + vehicle</text>
<rect x="398.4" y="185.95" width="9.7" height="2.4" fill="#7f7f7f"/>
<text x="410.8" y="189.15" font-size="5.5">LPS + TAK-242</text>
<text transform="translate(359.4 217.35) rotate(-90) scale(0.82 1)" font-size="9.5" text-anchor="middle">Aged neutrophils</text>
<text transform="translate(370.7 217.25) rotate(-90) scale(0.82 1)" font-size="9.35" text-anchor="middle" textLength="96.95" lengthAdjust="spacingAndGlyphs">[normalized to control]</text>
<text transform="translate(409.45 268.61) rotate(-45)" font-size="6.3" text-anchor="end">blood</text>
<text transform="translate(428.07 268.61) rotate(-45)" font-size="6.3" text-anchor="end">bone marrow</text>
<text transform="translate(446.68 268.61) rotate(-45)" font-size="6.3" text-anchor="end">spleen</text>
<text transform="translate(465.29 268.61) rotate(-45)" font-size="6.3" text-anchor="end">lung</text>
<text transform="translate(483.91 268.61) rotate(-45)" font-size="6.3" text-anchor="end">liver</text>
<text transform="translate(502.52 268.61) rotate(-45)" font-size="6.3" text-anchor="end">kidney</text></g>
</svg>
<svg width="520" height="304" viewBox="0 0 520 304">
<g><path d="M49.4 68.9H164" stroke="#000" stroke-width="1.4"/>
<path d="M49.4 24.4V110.34H164" stroke="#000" stroke-width="1.25" fill="none" stroke-linecap="square"/>
<path d="M46 27.46H49.4" stroke="#000" stroke-width="1.1"/>
<path d="M46 48.18H49.4" stroke="#000" stroke-width="1.1"/>
<path d="M46 68.9H49.4" stroke="#000" stroke-width="1.1"/>
<path d="M46 89.62H49.4" stroke="#000" stroke-width="1.1"/>
<path d="M46 110.34H49.4" stroke="#000" stroke-width="1.1"/></g>
<g><path d="M221.85 67.8H340" stroke="#000" stroke-width="1.4"/>
<path d="M221.85 22V110.26H340" stroke="#000" stroke-width="1.25" fill="none" stroke-linecap="square"/>
<path d="M218.45 25.34H221.85" stroke="#000" stroke-width="1.1"/>
<path d="M218.45 46.57H221.85" stroke="#000" stroke-width="1.1"/>
<path d="M218.45 67.8H221.85" stroke="#000" stroke-width="1.1"/>
<path d="M218.45 89.03H221.85" stroke="#000" stroke-width="1.1"/>
<path d="M218.45 110.26H221.85" stroke="#000" stroke-width="1.1"/></g>
<g><path d="M394.75 67.8H512.3" stroke="#000" stroke-width="1.4"/>
<path d="M394.75 22V110.26H512.3" stroke="#000" stroke-width="1.25" fill="none" stroke-linecap="square"/>
<path d="M391.35 25.34H394.75" stroke="#000" stroke-width="1.1"/>
<path d="M391.35 46.57H394.75" stroke="#000" stroke-width="1.1"/>
<path d="M391.35 67.8H394.75" stroke="#000" stroke-width="1.1"/>
<path d="M391.35 89.03H394.75" stroke="#000" stroke-width="1.1"/>
<path d="M391.35 110.26H394.75" stroke="#000" stroke-width="1.1"/></g>
<g><path d="M49.7 218.75H167.5" stroke="#000" stroke-width="1.4"/>
<path d="M49.7 173.6V261.31H167.5" stroke="#000" stroke-width="1.25" fill="none" stroke-linecap="square"/>
<path d="M46.3 176.19H49.7" stroke="#000" stroke-width="1.1"/>
<path d="M46.3 197.47H49.7" stroke="#000" stroke-width="1.1"/>
<path d="M46.3 218.75H49.7" stroke="#000" stroke-width="1.1"/>
<path d="M46.3 240.03H49.7" stroke="#000" stroke-width="1.1"/>
<path d="M46.3 261.31H49.7" stroke="#000" stroke-width="1.1"/></g>
<g><path d="M221.9 218.7H340.3" stroke="#000" stroke-width="1.4"/>
<path d="M221.9 173.4V261.26H340.3" stroke="#000" stroke-width="1.25" fill="none" stroke-linecap="square"/>
<path d="M218.5 176.14H221.9" stroke="#000" stroke-width="1.1"/>
<path d="M218.5 197.42H221.9" stroke="#000" stroke-width="1.1"/>
<path d="M218.5 218.7H221.9" stroke="#000" stroke-width="1.1"/>
<path d="M218.5 239.98H221.9" stroke="#000" stroke-width="1.1"/>
<path d="M218.5 261.26H221.9" stroke="#000" stroke-width="1.1"/></g>
<g><path d="M394.9 218.75H512" stroke="#000" stroke-width="1.4"/>
<path d="M394.9 173.6V261.31H512" stroke="#000" stroke-width="1.25" fill="none" stroke-linecap="square"/>
<path d="M391.5 176.19H394.9" stroke="#000" stroke-width="1.1"/>
<path d="M391.5 197.47H394.9" stroke="#000" stroke-width="1.1"/>
<path d="M391.5 218.75H394.9" stroke="#000" stroke-width="1.1"/>
<path d="M391.5 240.03H394.9" stroke="#000" stroke-width="1.1"/>
<path d="M391.5 261.31H394.9" stroke="#000" stroke-width="1.1"/></g>
<path d="M0 0H520V304H0Z M1.45 1.25V302.5H518.3V1.25Z" fill="#000" fill-rule="evenodd"/></svg>
</body></html>
